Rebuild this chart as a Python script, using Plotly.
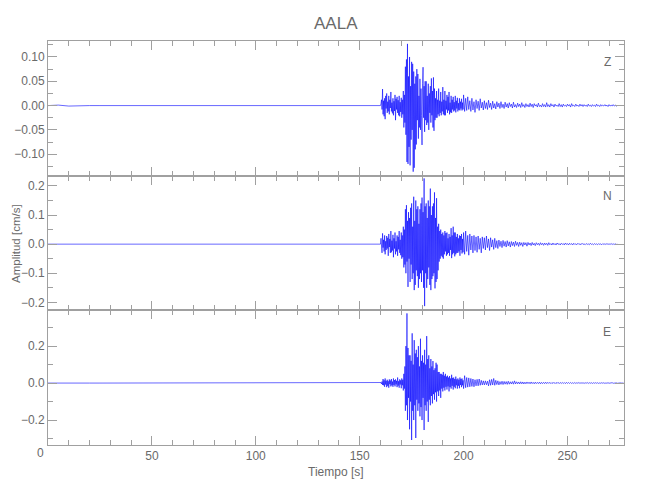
import plotly.graph_objects as go

# ---------------- data (cm/s) ----------------
PRE_START, PRE_STEP = 0.0, 5.0        # quiet pre-event samples (0 .. 155 s)
BURST_START, BURST_STEP = 160.0, 0.25  # main arrivals (160 .. 199.75 s)
CODA_START, CODA_STEP = 200.0, 0.5    # coda (200 s .. end)

z_pre = [0.0, 0.001, -0.001, 0.0, 0.0, 0.0, 0.0, 0.0, 0.0, 0.0, 0.0, 0.0, 0.0, 0.0, 0.0, 0.0,
         0.0, 0.0, 0.0, 0.0, 0.0, 0.0, 0.0, 0.0, 0.0, 0.0, 0.0, 0.0, 0.0, 0.0, 0.0, 0.0]
n_pre = [0.0, 0.0, 0.0, 0.0, 0.0, 0.0, 0.0, 0.0, 0.0, 0.0, 0.0, 0.0, 0.0, 0.0, 0.0, 0.0,
         0.0, 0.0, 0.0, 0.0, 0.0, 0.0, 0.0, 0.0, 0.0, 0.0, 0.0, 0.0, 0.0, 0.0, 0.0, 0.0]
e_pre = [0.0, 0.001, 0.0, 0.0, 0.0, 0.0, 0.0, 0.0, 0.0, 0.0, 0.0, 0.0, 0.0, 0.0, 0.0, 0.0,
         0.0, 0.0, 0.0, 0.0, 0.0, 0.0, 0.0, 0.0, 0.0, 0.0, 0.0, 0.0, 0.0, 0.0, 0.0, 0.0]

z_burst = [
    0.000, 0.004, 0.012, -0.008,   0.034, -0.018, 0.010, -0.022,
    0.015, -0.028, 0.020, -0.006,  0.025, -0.015, 0.008, -0.012,
    0.020, -0.018, 0.012, -0.005,  0.028, -0.012, 0.006, -0.016,
    0.015, -0.020, 0.009, -0.011,  0.022, -0.030, 0.014, -0.008,
    0.018, -0.015, 0.011, -0.020,  0.020, -0.022, 0.007, -0.013,
    0.016, -0.025, 0.012, -0.018,  0.030, -0.045, 0.022, -0.035,
    0.080, -0.060, 0.095, -0.116,  0.127, -0.120, 0.060, -0.085,
    0.100, -0.123, 0.040, -0.070,  0.090, -0.050, 0.086, -0.136,
    0.070, -0.128, 0.045, -0.090,  0.060, -0.080, 0.075, -0.030,
    0.065, -0.068, 0.020, -0.045,  0.055, -0.050, 0.035, -0.020,
    -0.081, 0.045, 0.079, -0.025,  0.040, -0.054, 0.050, -0.030,
    0.050, -0.040, 0.020, -0.035,  0.045, -0.050, 0.025, -0.015,
    0.040, -0.035, 0.056, -0.020,  0.030, -0.045, 0.058, -0.052,
    0.035, -0.030, 0.015, -0.025,  0.030, -0.025, 0.012, -0.018,
    0.035, -0.022, 0.010, -0.015,  0.028, -0.020, 0.008, -0.012,
    0.038, -0.018, 0.012, -0.020,  0.030, -0.020, 0.010, -0.008,
    0.022, -0.015, 0.018, -0.010,  0.028, -0.018, 0.006, -0.014,
    0.020, -0.015, 0.012, -0.008,  0.018, -0.012, 0.007, -0.010,
    0.020, -0.014, 0.010, -0.006,  0.016, -0.012, 0.005, -0.009,
    0.015, -0.010, 0.008, -0.006,  0.014, -0.010, 0.006, -0.008,
]
z_coda = [
    0.022, -0.012, 0.015, -0.010, 0.018, -0.008, 0.010, -0.012, 0.015, -0.009,
    0.008, -0.014, 0.012, -0.006, 0.009, -0.010, 0.014, -0.005, 0.007, -0.009,
    0.010, -0.006, 0.006, -0.008, 0.011, -0.004, 0.005, -0.008, 0.009, -0.005,
    0.004, -0.007, 0.008, -0.003, 0.005, -0.006, 0.008, -0.004, 0.003, -0.006,
    0.007, -0.003, 0.004, -0.005, 0.006, -0.002, 0.003, -0.005, 0.007, -0.003,
    0.002, -0.004, 0.005, -0.002, 0.003, -0.004, 0.006, -0.002, 0.002, -0.004,
    0.004, -0.002, 0.002, -0.003, 0.005, -0.002, 0.003, -0.004, 0.004, -0.001,
    0.002, -0.003, 0.005, -0.002, 0.001, -0.003, 0.004, -0.002, 0.002, -0.003,
    0.006, -0.002, 0.002, -0.003, 0.004, -0.001, 0.002, -0.003, 0.003, -0.001,
    0.001, -0.002, 0.004, -0.002, 0.002, -0.003, 0.003, -0.001, 0.001, -0.002,
    0.003, -0.001, 0.002, -0.003, 0.004, -0.001, 0.001, -0.002, 0.003, -0.001,
    0.001, -0.002, 0.003, -0.001, 0.002, -0.002, 0.002, -0.001, 0.001, -0.002,
    0.003, -0.001, 0.001, -0.002, 0.002, -0.001, 0.001, -0.002, 0.003, -0.001,
    0.001, -0.002, 0.002, -0.001, 0.001, -0.001, 0.002, -0.001, 0.001, -0.002,
    0.002, -0.001, 0.001, -0.001, 0.002, -0.001, 0.001, -0.001, 0.000,
]

n_burst = [
    0.000, 0.020, -0.010, -0.030,  0.037, -0.012, 0.015, -0.025,
    0.030, -0.035, 0.010, -0.020,  0.028, -0.015, 0.022, -0.040,
    0.035, -0.010, 0.018, -0.030,  0.045, -0.028, 0.012, -0.022,
    0.032, -0.045, 0.020, -0.015,  0.040, -0.035, 0.010, -0.025,
    0.030, -0.040, 0.025, -0.018,  0.045, -0.030, 0.015, -0.038,
    0.040, -0.050, 0.030, -0.045,  0.060, -0.080, 0.050, -0.070,
    0.120, -0.100, 0.134, -0.060,  0.080, -0.147, 0.110, -0.050,
    0.090, -0.130, 0.125, -0.070,  0.140, -0.120, 0.060, -0.100,
    0.163, -0.158, 0.080, -0.140,  0.150, -0.090, 0.120, -0.110,
    0.130, -0.150, 0.070, -0.120,  0.120, -0.100, 0.140, -0.130,
    0.160, -0.090, 0.110, -0.150,  0.226, -0.213, 0.130, -0.100,
    0.140, -0.150, 0.090, -0.120,  0.150, -0.080, 0.130, -0.140,
    0.191, -0.158, 0.100, -0.120,  0.130, -0.110, 0.140, -0.100,
    0.178, -0.152, 0.090, -0.130,  0.158, -0.120, 0.060, -0.090,
    0.070, -0.060, 0.045, -0.050,  0.050, -0.040, 0.035, -0.045,
    0.040, -0.050, 0.030, -0.035,  0.045, -0.025, 0.038, -0.040,
    0.040, -0.035, 0.020, -0.030,  0.035, -0.040, 0.025, -0.020,
    0.055, -0.048, 0.030, -0.035,  0.060, -0.030, 0.040, -0.042,
    0.040, -0.035, 0.025, -0.030,  0.035, -0.030, 0.020, -0.025,
    0.030, -0.040, 0.028, -0.020,  0.035, -0.032, 0.018, -0.028,
]
n_coda = [
    0.040, -0.035, 0.045, -0.025, 0.030, -0.038, 0.035, -0.020, 0.028, -0.030,
    0.030, -0.022, 0.025, -0.028, 0.028, -0.018, 0.020, -0.030, 0.025, -0.015,
    0.022, -0.020, 0.028, -0.012, 0.018, -0.022, 0.022, -0.010, 0.015, -0.018,
    0.020, -0.012, 0.012, -0.015, 0.014, -0.008, 0.010, -0.012, 0.013, -0.007,
    0.009, -0.010, 0.012, -0.006, 0.008, -0.010, 0.009, -0.005, 0.007, -0.008,
    0.010, -0.004, 0.006, -0.008, 0.007, -0.004, 0.005, -0.008, 0.006, -0.003,
    0.005, -0.007, 0.006, -0.003, 0.004, -0.005, 0.006, -0.003, 0.003, -0.005,
    0.005, -0.002, 0.003, -0.004, 0.005, -0.002, 0.003, -0.004, 0.004, -0.002,
    0.003, -0.004, 0.005, -0.002, 0.002, -0.003, 0.004, -0.002, 0.002, -0.003,
    0.004, -0.001, 0.002, -0.003, 0.003, -0.001, 0.002, -0.003, 0.004, -0.001,
    0.002, -0.003, 0.003, -0.001, 0.002, -0.003, 0.003, -0.001, 0.001, -0.002,
    0.003, -0.001, 0.001, -0.002, 0.003, -0.001, 0.001, -0.002, 0.002, -0.001,
    0.001, -0.002, 0.003, -0.001, 0.001, -0.002, 0.002, -0.001, 0.001, -0.002,
    0.002, -0.001, 0.001, -0.002, 0.002, -0.001, 0.001, -0.001, 0.002, -0.001,
    0.001, -0.001, 0.002, -0.001, 0.001, -0.001, 0.001, -0.001, 0.000,
]

e_burst = [
    0.000, 0.003, -0.005, 0.008,   -0.010, 0.022, -0.012, 0.015,
    -0.020, 0.025, -0.008, 0.012,  -0.022, 0.018, -0.015, 0.010,
    -0.025, 0.020, -0.006, 0.014,  -0.018, 0.022, -0.012, 0.008,
    -0.020, 0.025, -0.010, 0.016,  -0.018, 0.020, -0.007, 0.012,
    -0.022, 0.030, -0.014, 0.010,  -0.025, 0.020, -0.008, 0.015,
    -0.028, 0.025, -0.012, 0.018,  -0.040, 0.050, -0.030, 0.090,
    -0.150, 0.200, -0.120, 0.377,  -0.200, 0.190, -0.080, 0.150,
    -0.250, 0.150, -0.100, 0.120,  -0.308, 0.269, -0.150, 0.100,
    -0.200, 0.232, -0.120, 0.160,  -0.297, 0.180, -0.090, 0.140,
    -0.150, 0.200, -0.110, 0.090,  -0.180, 0.240, -0.130, 0.120,
    -0.200, 0.150, -0.080, 0.110,  -0.254, 0.180, -0.120, 0.100,
    -0.150, 0.254, -0.100, 0.130,  -0.210, 0.150, -0.090, 0.080,
    -0.120, 0.130, -0.070, 0.090,  -0.110, 0.119, -0.060, 0.070,
    -0.090, 0.080, -0.050, 0.110,  -0.100, 0.100, -0.045, 0.060,
    -0.070, 0.060, -0.040, 0.050,  -0.080, 0.050, -0.030, 0.045,
    -0.045, 0.060, -0.025, 0.040,  -0.040, 0.050, -0.020, 0.035,
    -0.035, 0.040, -0.018, 0.030,  -0.045, 0.038, -0.022, 0.025,
    -0.030, 0.045, -0.015, 0.028,  -0.035, 0.030, -0.020, 0.022,
    -0.028, 0.035, -0.012, 0.020,  -0.030, 0.025, -0.015, 0.018,
    -0.028, 0.030, -0.010, 0.022,  -0.022, 0.025, -0.012, 0.015,
]
e_coda = [
    -0.030, 0.040, -0.025, 0.030, -0.022, 0.028, -0.020, 0.025, -0.018, 0.022,
    -0.020, 0.018, -0.015, 0.020, -0.015, 0.022, -0.012, 0.015, -0.010, 0.012,
    -0.010, 0.012, -0.009, 0.010, -0.015, 0.018, -0.012, 0.020, -0.010, 0.025,
    -0.012, 0.015, -0.008, 0.012, -0.010, 0.008, -0.007, 0.010, -0.008, 0.009,
    -0.006, 0.008, -0.007, 0.010, -0.006, 0.007, -0.005, 0.008, -0.006, 0.012,
    -0.005, 0.007, -0.004, 0.006, -0.005, 0.007, -0.004, 0.006, -0.005, 0.005,
    -0.004, 0.006, -0.003, 0.005, -0.004, 0.006, -0.003, 0.004, -0.004, 0.005,
    -0.003, 0.004, -0.003, 0.005, -0.004, 0.004, -0.003, 0.004, -0.003, 0.005,
    -0.003, 0.004, -0.002, 0.004, -0.003, 0.003, -0.002, 0.004, -0.003, 0.003,
    -0.002, 0.004, -0.003, 0.003, -0.002, 0.003, -0.002, 0.003, -0.003, 0.004,
    -0.002, 0.003, -0.002, 0.003, -0.002, 0.002, -0.002, 0.003, -0.002, 0.002,
    -0.001, 0.003, -0.002, 0.002, -0.001, 0.002, -0.002, 0.002, -0.001, 0.003,
    -0.002, 0.002, -0.001, 0.002, -0.002, 0.002, -0.001, 0.002, -0.001, 0.002,
    -0.002, 0.001, -0.001, 0.002, -0.001, 0.002, -0.002, 0.001, -0.001, 0.002,
    -0.001, 0.001, -0.001, 0.002, -0.001, 0.001, -0.001, 0.001, -0.001, 0.001,
    -0.001, 0.001, 0.000, 0.001, 0.000,
]

components = ["Z", "N", "E"]
x_tick_values = [50, 100, 150, 200, 250]
title_text = "AALA"
x_title = "Tiempo [s]"
y_title = "Amplitud [cm/s]"


def sample_times(start, step, n):
    return [start + i * step for i in range(n)]


def build(pre, burst, coda):
    t = (sample_times(PRE_START, PRE_STEP, len(pre))
         + sample_times(BURST_START, BURST_STEP, len(burst))
         + sample_times(CODA_START, CODA_STEP, len(coda)))
    return t, pre + burst + coda


series = {
    "Z": build(z_pre, z_burst, z_coda),
    "N": build(n_pre, n_burst, n_coda),
    "E": build(e_pre, e_burst, e_coda),
}

# ---------------- figure ----------------
FONT = "Liberation Sans, Arial, sans-serif"
GRAY = "#a0a0a0"
TXT = "#6a6a6a"

axes_map = {"Z": ("x3", "y3"), "N": ("x2", "y2"), "E": ("x", "y")}

fig = go.Figure()
for comp in components:
    t, v = series[comp]
    xa, ya = axes_map[comp]
    fig.add_trace(go.Scatter(x=t, y=v, mode="lines", xaxis=xa, yaxis=ya,
                             line=dict(color="rgb(0,0,255)", width=0.6),
                             showlegend=False, hoverinfo="skip"))

common = dict(showline=True, linecolor=GRAY, linewidth=1, mirror="allticks",
              ticks="inside", tickcolor=GRAY, tickwidth=1, showgrid=False,
              zeroline=False, tickfont=dict(family=FONT, size=12, color=TXT))

xcommon = dict(common, range=[0, 277.2], tickvals=x_tick_values, ticklen=9,
               minor=dict(ticks="inside", ticklen=5, tickcolor=GRAY, dtick=10, tick0=0))

# page body adds an 8px offset; margins chosen so the plot box sits at
# x 48..623.7, y 40.7..445 on screen
fig.update_layout(
    width=650, height=500,
    margin=dict(l=40, r=34.3, t=32.7, b=63, autoexpand=False),
    paper_bgcolor="white", plot_bgcolor="white",
    font=dict(family=FONT, color=TXT),
    xaxis=dict(xcommon, anchor="y", domain=[0, 1]),
    xaxis2=dict(xcommon, anchor="y2", domain=[0, 1], matches="x", showticklabels=False),
    xaxis3=dict(xcommon, anchor="y3", domain=[0, 1], matches="x", showticklabels=False),
    yaxis=dict(common, anchor="x", domain=[0, 1/3], range=[-0.335, 0.3935],
               tickvals=[-0.2, 0.0, 0.2], tickformat=".1f", ticklen=9,
               minor=dict(ticks="inside", ticklen=5, tickcolor=GRAY, dtick=0.1, tick0=0)),
    yaxis2=dict(common, anchor="x2", domain=[1/3, 2/3], range=[-0.2275, 0.2354],
                tickvals=[-0.2, -0.1, 0.0, 0.1, 0.2], tickformat=".1f", ticklen=9,
                minor=dict(ticks="inside", ticklen=5, tickcolor=GRAY, dtick=0.05, tick0=0)),
    yaxis3=dict(common, anchor="x3", domain=[2/3, 1], range=[-0.1442, 0.1329],
                tickvals=[-0.10, -0.05, 0.0, 0.05, 0.10], tickformat=".2f", ticklen=9,
                minor=dict(ticks="inside", ticklen=5, tickcolor=GRAY, dtick=0.025, tick0=0)),
)

PW, PH = 575.7, 404.3  # plot box size in px


def px_x(X):
    return (X - 48) / PW


def px_y(Y):
    return (445 - Y) / PH


annotations = [
    dict(text=title_text, x=0.5, y=px_y(22.7), xref="paper", yref="paper",
         showarrow=False, xanchor="center", yanchor="middle",
         font=dict(family=FONT, size=17, color=TXT)),
    dict(text=x_title, x=0.5, y=px_y(472), xref="paper", yref="paper",
         showarrow=False, xanchor="center", yanchor="middle",
         font=dict(family=FONT, size=12, color=TXT)),
    dict(text=y_title, x=px_x(16), y=0.5, xref="paper", yref="paper",
         showarrow=False, xanchor="center", yanchor="middle", textangle=-90,
         font=dict(family=FONT, size=11.5, color=TXT)),
    dict(text="0", x=px_x(41), y=px_y(453), xref="paper", yref="paper",
         showarrow=False, xanchor="center", yanchor="middle",
         font=dict(family=FONT, size=12, color=TXT)),
]
label_y = {"Z": 61.7, "N": 196.0, "E": 331.7}
for comp in components:
    annotations.append(dict(text=comp, x=px_x(607), y=px_y(label_y[comp]),
                            xref="paper", yref="paper", showarrow=False,
                            xanchor="center", yanchor="middle",
                            font=dict(family=FONT, size=12, color=TXT)))
fig.update_layout(annotations=annotations)

fig.write_html("out.html")
